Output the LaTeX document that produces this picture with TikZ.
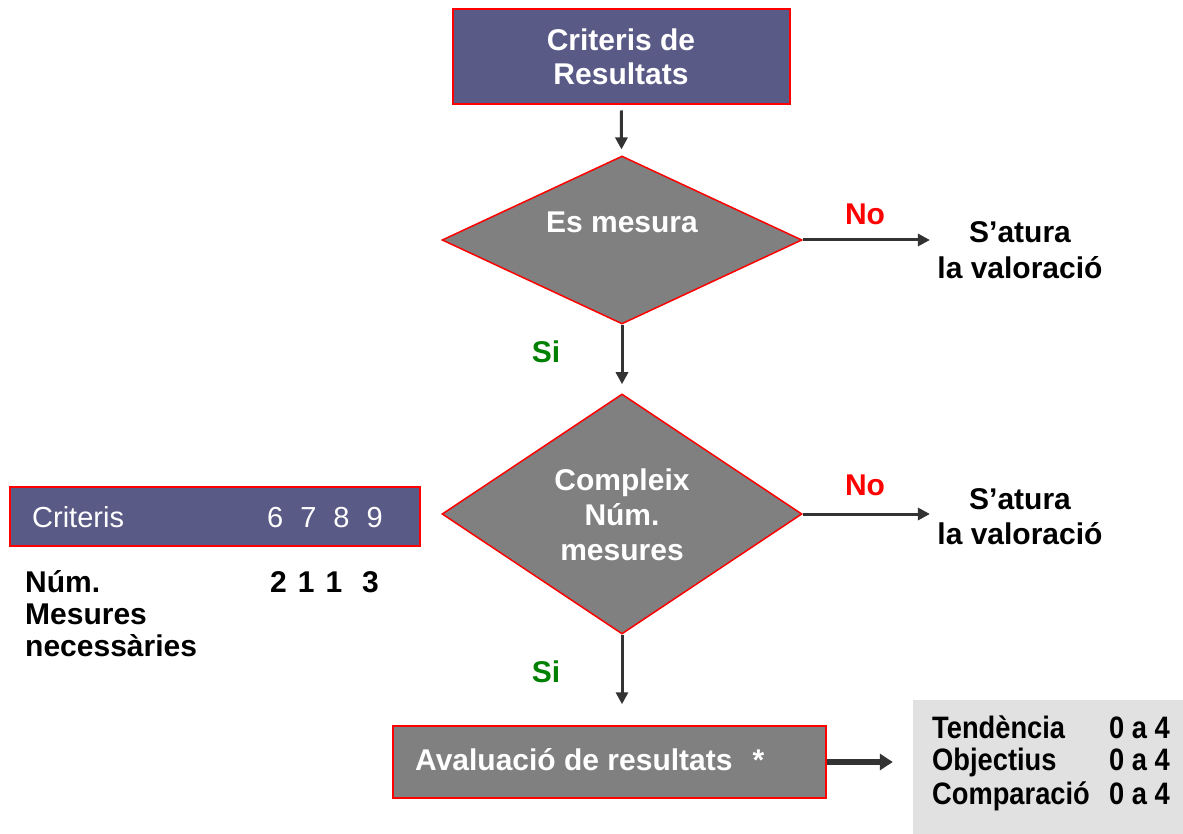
\documentclass[tikz,border=0pt]{standalone}
\usepackage{fontspec}
\setmainfont{Liberation Sans}
\newfontfamily\narrowfont[FakeStretch=0.88]{Liberation Sans}
\usetikzlibrary{shapes.geometric,arrows.meta}
\definecolor{slate}{RGB}{90,90,135}
\definecolor{boxgray}{RGB}{128,128,128}
\definecolor{panelgray}{RGB}{225,225,225}
\definecolor{arrowgray}{RGB}{51,51,51}
\definecolor{sigreen}{RGB}{0,128,0}
\begin{document}
\begin{tikzpicture}[x=1pt, y=-1pt, font=\bfseries\fontsize{30}{34}\selectfont,
    decision/.style={diamond, draw=red, line width=1.5pt, fill=boxgray, minimum width=360, inner sep=0},
    flow/.style={arrowgray, line width=3pt, -{Triangle[length=12pt, width=12pt]}},
    paneltxt/.style={inner sep=0, font=\narrowfont\bfseries\fontsize{31}{34}\selectfont}]
    \useasboundingbox (0,0) rectangle (1183,834);
    \node (crit) at (621,57) [rectangle, draw=red, line width=2pt, fill=slate, text=white, minimum width=337, minimum height=95, align=center] {Criteris de\\Resultats};
    \node (mesura) at (622,240) [decision, minimum height=168] {};
    \node (mesuratxt) at (622,222) [text=white] {Es mesura};
    \node (nombre) at (622,514) [decision, minimum height=240] {};
    \node (nombretxt) at (622,515) [text=white, align=center, font=\bfseries\fontsize{30}{35}\selectfont] {Compleix\\Núm.\\mesures};
    \node (aval) at (609.5,762) [rectangle, draw=red, line width=1.5pt, fill=boxgray, minimum width=433, minimum height=72] {};
    \node (avaltxt) at (415,760) [anchor=west, inner sep=0, text=white] {Avaluació de resultats\hspace{20pt}*};
    \node (panel) at (1048,767) [rectangle, fill=panelgray, minimum width=270, minimum height=134] {};
    \node (tend) at (932,738) [anchor=base west, paneltxt] {Tendència};
    \node (obj) at (932,770) [anchor=base west, paneltxt] {Objectius};
    \node (comp) at (932,804) [anchor=base west, paneltxt] {Comparació};
    \node (tendval) at (1170,738) [anchor=base east, paneltxt] {0 a 4};
    \node (objval) at (1170,770) [anchor=base east, paneltxt] {0 a 4};
    \node (compval) at (1170,804) [anchor=base east, paneltxt] {0 a 4};
    \node (stop1) at (1020,250) [align=center, font=\bfseries\fontsize{30}{36}\selectfont] {S’atura\\la valoració};
    \node (stop2) at (1020,517) [align=center, font=\bfseries\fontsize{30}{35}\selectfont] {S’atura\\la valoració};
    \node (no1) at (865,214) [text=red] {No};
    \node (no2) at (865,485) [text=red] {No};
    \node (si1) at (546,352) [text=sigreen] {Si};
    \node (si2) at (546,672) [text=sigreen] {Si};
    \node (critbox) at (215,516.5) [rectangle, draw=red, line width=1.5pt, fill=slate, minimum width=410, minimum height=59] {};
    \node (crittxt) at (32,527) [anchor=base west, inner sep=0, text=white, font=\mdseries\fontsize{29}{34}\selectfont] {Criteris};
    \node (critnum) at (267,527) [anchor=base west, inner sep=0, text=white, font=\mdseries\fontsize{29}{34}\selectfont] {6\hspace{17pt}7\hspace{17pt}8\hspace{17pt}9};
    \node (mesnum) at (270,592) [anchor=base west, inner sep=0] {2\hspace{11pt}1\hspace{11pt}1\hspace{20pt}3};
    \node (meslbl) at (25,614) [anchor=west, inner sep=0, align=left, font=\bfseries\fontsize{30}{32}\selectfont] {Núm.\\Mesures\\necessàries};
    \draw[flow, shorten <=5pt, shorten >=6pt] (crit) -- (mesura);
    \draw[flow, shorten >=9pt] (mesura) -- (nombre);
    \draw[flow, shorten >=21pt] (nombre) -- (nombre |- aval.north);
    \draw[flow, shorten >=4pt] (mesura.east) -- (mesura.east -| stop1.west);
    \draw[flow, shorten >=4pt] (nombre.east) -- (nombre.east -| stop2.west);
    \draw[arrowgray, line width=6pt, -{Triangle[length=13pt, width=16pt]}, shorten >=20pt] (aval.east) -- (aval.east -| panel.west);
\end{tikzpicture}
\end{document}
